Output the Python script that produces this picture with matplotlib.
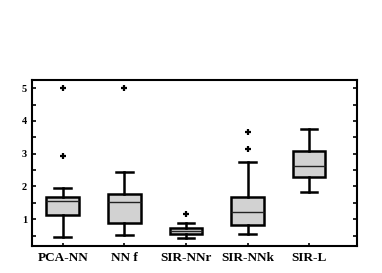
import matplotlib
matplotlib.use("Agg")
import matplotlib.pyplot as plt

# 读图估计的箱线图统计量
labels = ["PCA-NN", "NN f", "SIR-NNr", "SIR-NNk", "SIR-L"]
whislo = [0.47, 0.52, 0.44, 0.54, 1.83]
q1 = [1.13, 0.88, 0.55, 0.83, 2.30]
med = [1.57, 1.54, 0.64, 1.23, 2.64]
q3 = [1.68, 1.76, 0.73, 1.69, 3.08]
whishi = [1.96, 2.45, 0.89, 2.74, 3.75]
fliers = [[2.94, 5.0], [5.0], [1.16], [3.15, 3.67], []]

plt.rcParams['font.family'] = ['Liberation Serif', 'DejaVu Serif']

stats = []
for i in range(len(labels)):
    stats.append(dict(label=labels[i], whislo=whislo[i], q1=q1[i], med=med[i],
                      q3=q3[i], whishi=whishi[i], fliers=fliers[i]))

fig = plt.figure(figsize=(3.82, 2.73), dpi=100)
ax = fig.add_axes([0.0838, 0.099, 0.851, 0.608])

ax.bxp(stats, positions=range(1, len(labels) + 1), widths=0.53, patch_artist=True,
       boxprops=dict(facecolor='#d2d2d2', edgecolor='black', linewidth=1.8),
       medianprops=dict(color='#222222', linewidth=1.0),
       whiskerprops=dict(color='black', linewidth=1.8),
       capprops=dict(color='black', linewidth=1.8),
       capwidths=0.27,
       flierprops=dict(marker='+', markeredgecolor='black', markersize=4, markeredgewidth=1.6))

ax.set_xlim(0.5, 5.78)
ax.set_ylim(0.185, 5.25)
ax.set_yticks([1, 2, 3, 4, 5])
ax.set_yticks([0.5, 1.5, 2.5, 3.5, 4.5], minor=True)
ax.set_xticks(range(1, len(labels) + 1))
ax.set_xticklabels(labels)
ax.tick_params(axis='both', which='both', direction='in', width=1.2, length=3,
               labelsize=7.5, right=True)
ax.tick_params(axis='y', which='minor', length=3)
ax.tick_params(axis='x', length=2, pad=4, labelsize=9.5)
for t in ax.get_xticklabels() + ax.get_yticklabels():
    t.set_fontweight('bold')
for s in ax.spines.values():
    s.set_linewidth(1.5)

fig.savefig("out.png", dpi=100, facecolor='white')
